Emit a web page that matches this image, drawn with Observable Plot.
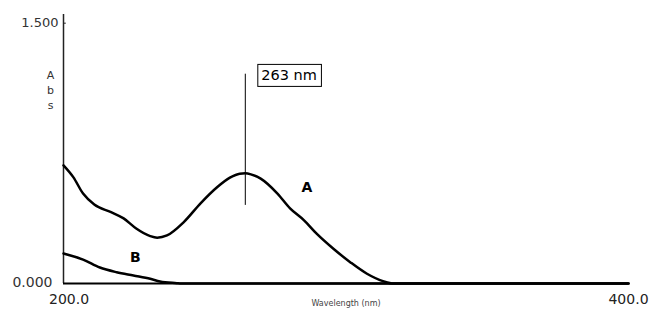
<!DOCTYPE html>
<html><head><meta charset="utf-8">
<script src="https://cdn.jsdelivr.net/npm/d3@7"></script>
<script src="https://cdn.jsdelivr.net/npm/@observablehq/plot@0.6"></script>
<style>body{margin:0;background:#fff;}</style>
</head><body><div id="chart"></div>
<script>
// Spectrum A
const wavelengthA = [198, 201.5, 205, 209, 215, 219.5, 224, 229, 231.5, 235, 241, 247, 253, 257.5, 261, 263, 265, 268.5, 274.5, 279, 284, 288.5, 294.5, 300.5, 306.5, 312.5, 316, 400];
const absA = [0.681, 0.613, 0.518, 0.455, 0.411, 0.375, 0.317, 0.273, 0.264, 0.277, 0.354, 0.462, 0.556, 0.610, 0.633, 0.635, 0.629, 0.604, 0.518, 0.433, 0.364, 0.287, 0.200, 0.123, 0.056, 0.012, 0, 0];
// Spectrum B
const wavelengthB = [198, 205, 211, 217, 223, 229, 232.5, 238.5, 240, 400];
const absB = [0.173, 0.138, 0.092, 0.065, 0.046, 0.027, 0.012, 0.002, 0, 0];
// Ticks
const xTicks = [200, 400];
const yTickTop = [1.5];
const yTickBottom = [0];
const peakWavelength = 263;
const peakLabel = "263 nm";
const seriesLabels = ["A", "B"];
const seriesLabelX = [285, 223.7];
const seriesLabelY = [0.554, 0.147];

const dataA = wavelengthA.map((w, i) => ({w, a: absA[i]}));
const dataB = wavelengthB.map((w, i) => ({w, a: absB[i]}));
const labels = seriesLabels.map((t, i) => ({t, x: seriesLabelX[i], y: seriesLabelY[i]}));

const plot = Plot.plot({
  width: 654, height: 310,
  marginLeft: 63, marginRight: 26, marginTop: 14, marginBottom: 27,
  style: {fontFamily: "DejaVu Sans", background: "white", overflow: "visible"},
  x: {domain: [198, 400], axis: null},
  y: {domain: [0, 1.55], axis: null},
  marks: [
    Plot.ruleX([198], {y1: 0, y2: 1.55, stroke: "#222", strokeWidth: 1.5}),
    Plot.ruleY([1.5], {x1: 198, x2: 199, stroke: "#222", strokeWidth: 1}),
    Plot.ruleY([0], {stroke: "#000", strokeWidth: 2}),
    Plot.line(dataA, {x: "w", y: "a", stroke: "#000", strokeWidth: 2.5, curve: "monotone-x"}),
    Plot.line(dataB, {x: "w", y: "a", stroke: "#000", strokeWidth: 2.5, curve: "monotone-x"}),
    Plot.ruleX([peakWavelength], {y1: 0.45, y2: 1.206, stroke: "#000", strokeWidth: 1}),
    Plot.text([peakLabel], {x: peakWavelength, y: 1.197, dx: 16, textAnchor: "start", fontSize: 14.5, fill: "#000"}),
    Plot.text(labels, {x: "x", y: "y", text: "t", fontSize: 14, fontWeight: "bold", fill: "#000"}),
    Plot.text(xTicks, {x: d => d, y: 0, text: d => d.toFixed(1), dy: 16, fontSize: 14, fill: "#222"}),
    Plot.text(yTickTop, {x: 198, y: d => d, text: d => d.toFixed(3), dx: -5, textAnchor: "end", fontSize: 13, fill: "#333"}),
    Plot.text(yTickBottom, {x: 198, y: d => d, text: d => d.toFixed(3), dx: -11, dy: -1, textAnchor: "end", fontSize: 14, fill: "#333"}),
    Plot.text(["A\nb\ns"], {frameAnchor: "top-left", dx: -13, dy: 54, textAnchor: "middle", lineAnchor: "top", lineHeight: 1.36, fontSize: 11, fill: "#333"}),
    Plot.text(["Wavelength (nm)"], {frameAnchor: "bottom", dy: 22, fontSize: 8, fill: "#444"})
  ]
});
document.getElementById("chart").appendChild(plot);
const t = Array.from(plot.querySelectorAll("text")).find(el => el.textContent === peakLabel);
if (t) {
  const b = t.getBBox();
  const r = document.createElementNS("http://www.w3.org/2000/svg", "rect");
  r.setAttribute("x", b.x - 3.5);
  r.setAttribute("y", b.y - 3);
  r.setAttribute("width", b.width + 8);
  r.setAttribute("height", b.height + 6);
  r.setAttribute("fill", "none");
  r.setAttribute("stroke", "#000");
  r.setAttribute("stroke-width", 1);
  r.setAttribute("transform", t.getAttribute("transform") || "");
  t.parentNode.insertBefore(r, t);
}
</script>
</body></html>
